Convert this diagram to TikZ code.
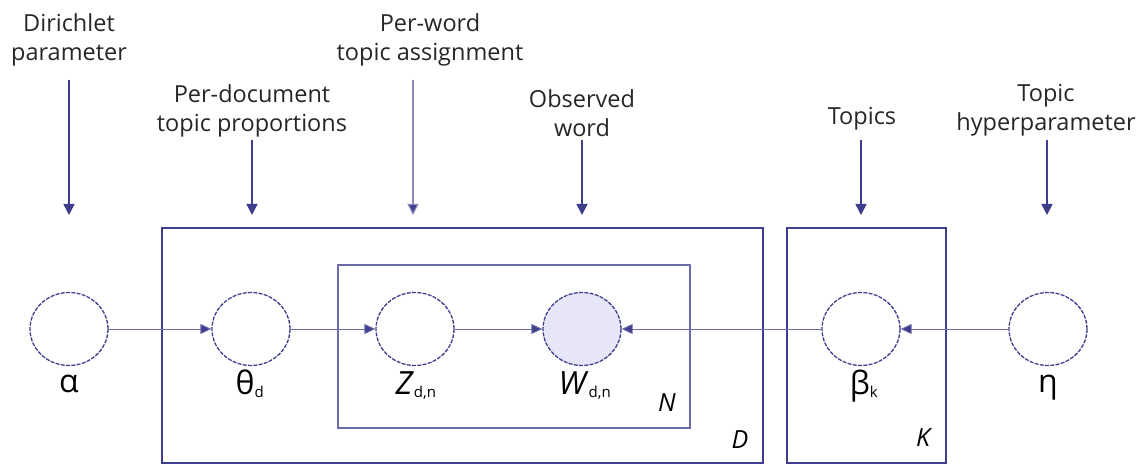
\documentclass[tikz,border=0pt]{standalone}
\usepackage{fontspec}
\setmainfont{Open Sans}
\usetikzlibrary{arrows.meta,shapes.geometric}
\definecolor{navy}{HTML}{3E3E8C}
\definecolor{lnav}{HTML}{6C6CAA}
\definecolor{obs}{HTML}{E6E6F8}
\tikzset{
  var/.style={ellipse, minimum width=78pt, minimum height=73pt, draw=navy, line width=1.3pt, dash pattern=on 4pt off 1.3pt, inner sep=0pt},
  plate/.style={draw=navy, line width=1.3pt},
  edge/.style={draw=lnav, line width=0.9pt, -{Triangle[length=11pt,width=10pt,fill=navy]}},
  feed/.style={draw=navy, line width=1.6pt, -{Triangle[length=11pt,width=11pt]}},
  lightfeed/.style={draw=lnav!80, line width=1.2pt, -{Triangle[length=11pt,width=11pt,fill=navy]}},
  ann/.style={align=center, font=\fontsize{23.5}{28.5}\selectfont, text=black!85, inner sep=0pt},
  sym/.style={font=\fontsize{32}{32}\selectfont, inner sep=0pt},
  platelab/.style={font=\fontsize{25}{25}\selectfont\itshape, inner sep=0pt}
}
\begin{document}
\begin{tikzpicture}[x=1pt,y=-1pt]
\useasboundingbox (0,0) rectangle (1148,465);
% plates
\draw[plate] (162,228) rectangle (763,463);
\draw[plate, draw=lnav, line width=1.2pt] (338,265) rectangle (690,428);
\draw[plate] (787,228) rectangle (946,463);
\node[platelab] (labN) at (667,403) {N};
\node[platelab] (labD) at (740,440) {D};
\node[platelab] (labK) at (923,438) {K};
% variables
\node[var] (alpha) at (69,329) {};
\node[var] (theta) at (251,329) {};
\node[var] (z) at (415,329) {};
\node[var, fill=obs] (w) at (582,329) {};
\node[var] (beta) at (861,329) {};
\node[var] (eta) at (1048,329) {};
% symbol labels
\node[sym] (lalpha) at (69,384) {α};
\node[sym, anchor=base] (ltheta) at (250,394) {θ\textsubscript{\fontsize{15}{15}\selectfont d}};
\node[sym, anchor=base] (lz) at (416,394) {\textit{Z}\textsubscript{\fontsize{15}{15}\selectfont d,n}};
\node[sym, anchor=base] (lw) at (585,394) {\textit{W}\textsubscript{\fontsize{15}{15}\selectfont d,n}};
\node[sym, anchor=base] (lbeta) at (864,394) {β\textsubscript{\fontsize{15}{15}\selectfont k}};
\node[sym] (leta) at (1048,388) {η};
% edges
\draw[edge] (alpha) -- (theta);
\draw[edge] (theta) -- (z);
\draw[edge] (z) -- (w);
\draw[edge] (beta) -- (w);
\draw[edge] (eta) -- (beta);
% annotations
\node[ann] (t1) at (69,40) {Dirichlet\\parameter};
\node[ann] (t2) at (252,111) {Per-document\\topic proportions};
\node[ann] (t3) at (430,40) {Per-word\\topic assignment};
\node[ann] (t4) at (582,113) {Observed\\word};
\node[ann] (t5) at (862,119) {Topics};
\node[ann] (t6) at (1046,110) {Topic\\hyperparameter};
\coordinate (c1) at (69,80);   \coordinate (e1) at (69,215);
\coordinate (c2) at (252,140); \coordinate (e2) at (252,215);
\coordinate (c3) at (413,80);  \coordinate (e3) at (413,215);
\coordinate (c4) at (582,140); \coordinate (e4) at (582,215);
\coordinate (c5) at (861,140); \coordinate (e5) at (861,215);
\coordinate (c6) at (1047,140);\coordinate (e6) at (1047,215);
\draw[feed] (c1) -- (e1);
\draw[feed] (c2) -- (e2);
\draw[lightfeed] (c3) -- (e3);
\draw[feed] (c4) -- (e4);
\draw[feed] (c5) -- (e5);
\draw[feed] (c6) -- (e6);
\end{tikzpicture}
\end{document}
